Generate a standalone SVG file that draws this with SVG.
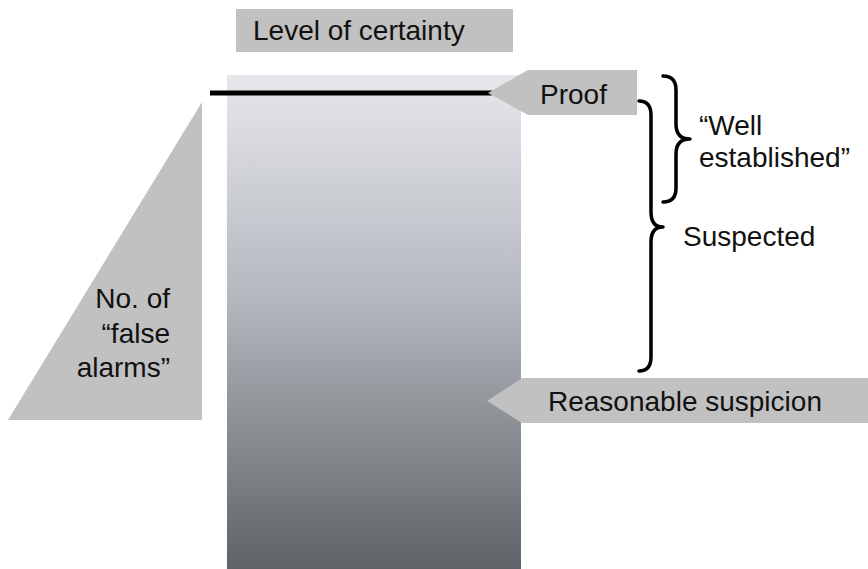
<svg xmlns="http://www.w3.org/2000/svg" width="868" height="569" viewBox="0 0 868 569">
<defs>
<linearGradient id="g" x1="0" y1="0" x2="0" y2="1">
<stop offset="0" stop-color="#e6e7eb"/>
<stop offset="0.45" stop-color="#b4b8bf"/>
<stop offset="1" stop-color="#5d6366"/>
</linearGradient>
<style>
text{font-family:"Liberation Sans",Arial,sans-serif;font-size:28px;fill:#111}
.box{fill:#c1c1c1}
.brace{fill:none;stroke:#000;stroke-width:3.5;stroke-linecap:round;stroke-linejoin:round}
</style>
</defs>
<rect width="868" height="569" fill="#fff"/>
<g id="title">
<rect class="box" x="236" y="9" width="277" height="43"/>
<text x="253" y="40">Level of certainty</text>
</g>
<g id="column">
<rect x="227" y="75" width="294" height="494" fill="url(#g)"/>
</g>
<g id="false-alarms">
<polygon class="box" points="202,102 202,420 8,420"/>
<text x="170" y="308" text-anchor="end">No. of</text>
<text x="170" y="343" text-anchor="end">“false</text>
<text x="170" y="377" text-anchor="end">alarms”</text>
</g>
<g id="connectors">
<line x1="210" y1="93" x2="492" y2="93" stroke="#000" stroke-width="5"/>
<path class="brace" d="M663,76 Q676,76 676,90 L676,124 Q676,139 690,139 Q676,139 676,154 L676,188 Q676,202 663,202"/>
<path class="brace" d="M639,101 Q651,101 651,115 L651,212 Q651,227 663,227 Q651,227 651,242 L651,357 Q651,371 639,371"/>
</g>
<g id="proof">
<polygon class="box" points="488,93 528,70 637,70 637,115 528,115"/>
<text x="540" y="104">Proof</text>
</g>
<g id="well-established">
<text x="699" y="135">“Well</text>
<text x="699" y="167">established”</text>
</g>
<g id="suspected">
<text x="683" y="246">Suspected</text>
</g>
<g id="reasonable-suspicion">
<polygon class="box" points="487,401 522,378 868,378 868,423 522,423"/>
<text x="548" y="411">Reasonable suspicion</text>
</g>
</svg>
